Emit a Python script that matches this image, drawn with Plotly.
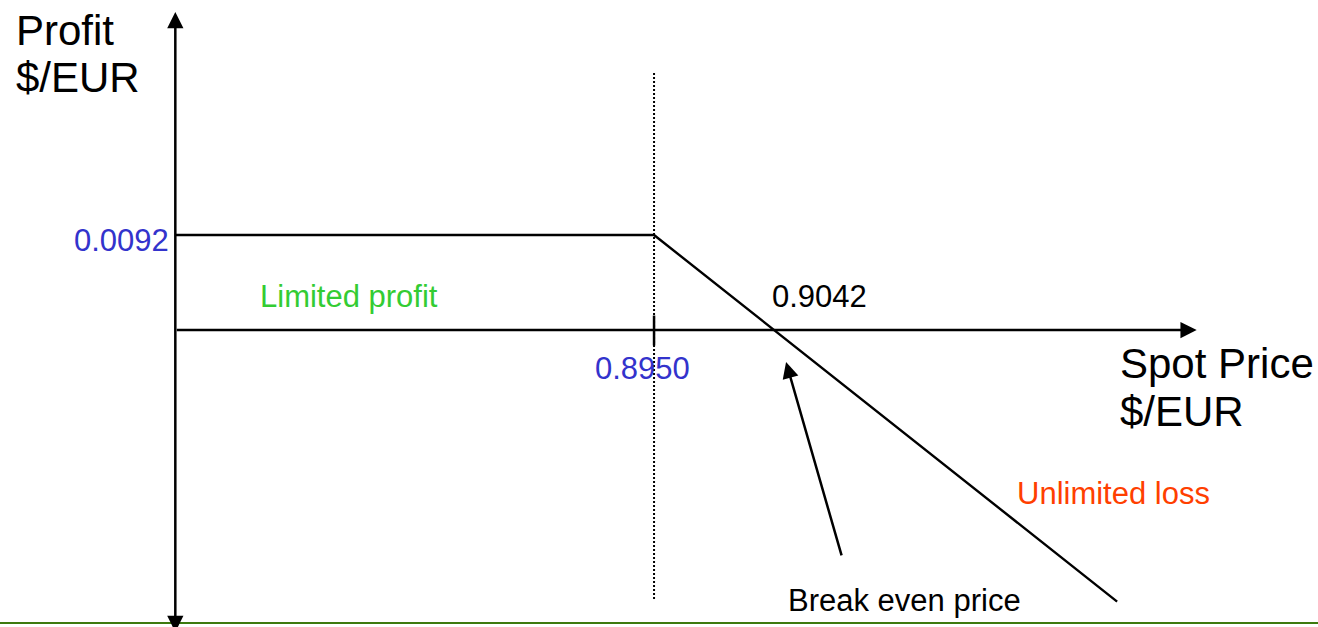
import plotly.graph_objects as go

# payoff of the position (spot price $/EUR -> profit $/EUR)
spot = [0.8583, 0.8950, 0.9305]
profit = [0.0092, 0.0092, -0.0263]

strike = 0.8950
break_even = 0.9042
max_profit = 0.0092

# extent of the drawn axes
axis_origin = 0.8583
axis_x_end = 0.9366
axis_y_top = 0.0308
axis_y_bottom = -0.0294
guide_top = 0.0249
guide_bottom = -0.0262

FONT = "Arial, Liberation Sans, sans-serif"
BLUE = "#3333cc"
GREEN = "#33cc33"
ORANGE = "#ff3f00"

fig = go.Figure()

# dotted guide at the strike
fig.add_trace(go.Scatter(x=[strike, strike], y=[guide_top, guide_bottom], mode="lines",
                         line=dict(color="black", width=2, dash="2px,2px"), hoverinfo="skip"))
# tick on the spot axis
fig.add_trace(go.Scatter(x=[strike, strike], y=[0.0014, -0.0015], mode="lines",
                         line=dict(color="black", width=2.5), hoverinfo="skip"))
# payoff line
fig.add_trace(go.Scatter(x=spot, y=profit, mode="lines",
                         line=dict(color="black", width=2.4), hoverinfo="skip"))

def arrow(x, y, ax, ay, both=False):
    '''Arrow from (ax, ay) to (x, y) in data units'''
    a = dict(x=x, y=y, ax=ax, ay=ay, xref="x", yref="y", axref="x", ayref="y",
             text="", showarrow=True, arrowhead=2, arrowsize=1.3, arrowwidth=2.5,
             arrowcolor="black", standoff=0)
    if both:
        a.update(arrowside="end+start", startarrowhead=2, startarrowsize=1.3, startstandoff=0)
    fig.add_annotation(**a)

# axes
arrow(axis_origin, axis_y_top, axis_origin, axis_y_bottom, both=True)
arrow(axis_x_end, 0, axis_origin, 0)
# break even pointer
arrow(0.90512, -0.0031, 0.90941, -0.02198)

def label(text, x, y, color="black", size=31, xanchor="left"):
    fig.add_annotation(x=x, y=y, xref="x", yref="y", text=text, showarrow=False,
                       xanchor=xanchor, yanchor="middle",
                       font=dict(family=FONT, size=size, color=color))

label("Profit", 0.84593, 0.02905, size=42)
label("$/EUR", 0.84593, 0.02449, size=42)
label("Spot Price", 0.93057, -0.0032, size=42)
label("$/EUR", 0.93057, -0.00794, size=42)
label(f"{max_profit:.4f}", axis_origin - 0.0003, max_profit - 0.0005, color=BLUE, xanchor="right")
label(f"{strike:.4f}", strike - 0.0009, -0.0037, color=BLUE, xanchor="center")
label(f"{break_even:.4f}", 0.9039, 0.0032)
label("Limited profit", 0.86464, 0.0032, color=GREEN)
label("Unlimited loss", 0.92268, -0.01588, color=ORANGE)
label("Break even price", 0.90512, -0.02624)

# footer rule
fig.add_shape(type="line", xref="paper", yref="paper", x0=0, x1=1, y0=0.0064, y1=0.0064,
              line=dict(color="#3d7a0e", width=2))

fig.update_layout(
    width=1318, height=627,
    margin=dict(l=0, r=0, t=0, b=0),
    paper_bgcolor="white", plot_bgcolor="white",
    showlegend=False,
    xaxis=dict(range=[0.84486, 0.94590], visible=False, fixedrange=True),
    yaxis=dict(range=[-0.028763, 0.031958], visible=False, fixedrange=True),
)

# page margin off so the figure fills the window
fig.write_html("out.html", config={"displayModeBar": False},
               post_script="document.body.style.margin='0';")
